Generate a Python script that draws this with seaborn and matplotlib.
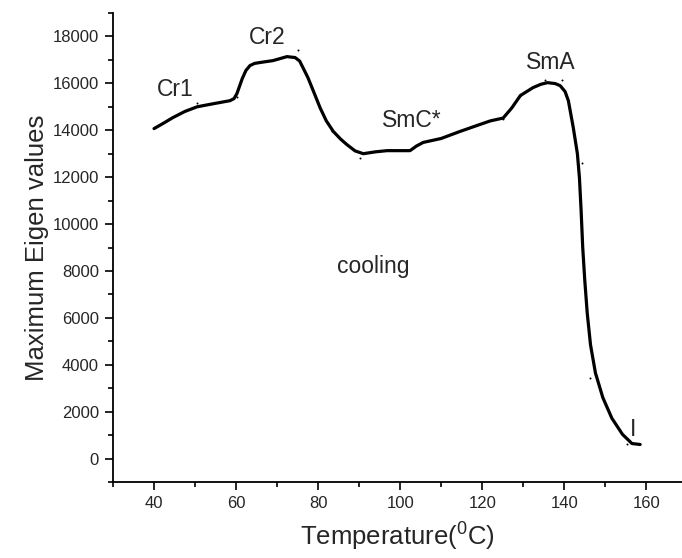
import matplotlib
matplotlib.use("Agg")
import matplotlib.pyplot as plt
import numpy as np
import pandas as pd
import seaborn as sns
from matplotlib.ticker import MultipleLocator

# curve (temperature, max eigen value)
temp = [40, 42.3, 44.6, 47.5, 50.5, 54.4, 58.5, 59.5, 60.2, 61.5, 62.4, 63.4,
        64.5, 65.9, 69, 72.4, 74.4, 75.5, 76.3, 77.5, 78.8, 80.5, 82, 83.7,
        85.5, 87, 89, 91, 94, 96.8, 100, 102.4, 104, 105.6, 110, 114.6, 119.5,
        122, 125.1, 127.2, 129.3, 132.4, 134.3, 135.9, 137.8, 139, 140.2, 141,
        142.2, 143.2, 143.7, 144.1, 144.5, 145.0, 145.6, 146.4, 147.6, 149.4,
        151.6, 154.2, 156.5, 158.5]
eigen = [14070, 14300, 14540, 14800, 15000, 15130, 15260, 15350, 15560, 16200,
         16550, 16760, 16850, 16890, 16970, 17140, 17100, 16950, 16670, 16250,
         15690, 14950, 14400, 13950, 13620, 13390, 13120, 13000, 13080, 13130,
         13130, 13130, 13330, 13480, 13650, 13950, 14250, 14400, 14520, 14950,
         15480, 15820, 15960, 16030, 15990, 15900, 15650, 15260, 14110, 13000,
         11970, 10600, 9000, 7600, 6200, 4850, 3650, 2600, 1720, 1030, 640, 600]

# small measured points scattered near the curve
dot_t = [50.5, 60.2, 75, 83.4, 90.2, 125, 129.3, 135.4, 139.5, 144.4, 146.3, 155.4]
dot_v = [15150, 15400, 17420, 13950, 12830, 14460, 15450, 16140, 16140, 12620,
         3430, 600]

# phase labels
phase_names = ["Cr1", "Cr2", "SmC*", "SmA", "I", "cooling"]
phase_t = [45.1, 67.6, 102.9, 136.6, 156.8, 93.4]
phase_v = [15750, 17950, 14400, 16890, 1240, 8200]

sns.set_style("ticks")
plt.rcParams["font.family"] = ["Liberation Sans", "DejaVu Sans"]
plt.rcParams["mathtext.fontset"] = "custom"
plt.rcParams["mathtext.rm"] = "Liberation Sans"

fig = plt.figure(figsize=(6.82, 5.58), dpi=100)
ax = fig.add_axes([0.1657, 0.1362, 0.8343, 0.8405])

df = pd.DataFrame({"t": temp, "v": eigen})
sns.lineplot(data=df, x="t", y="v", sort=False, color="black", linewidth=2.3, ax=ax)
sns.scatterplot(x=dot_t, y=dot_v, color="black", s=2, linewidth=0, ax=ax)

for name, t, v in zip(phase_names, phase_t, phase_v):
    ax.text(t, v, name, ha="center", va="center", fontsize=16.5)

ax.set_xlim(30, 168.7)
ax.set_ylim(-1000, 19000)
ax.set_xticks(np.arange(40, 161, 20))
ax.set_yticks(np.arange(0, 18001, 2000))
ax.xaxis.set_minor_locator(MultipleLocator(10))
ax.yaxis.set_minor_locator(MultipleLocator(1000))
ax.tick_params(which="major", direction="out", length=6, width=1.2, labelsize=12, color="black", pad=4)
ax.tick_params(which="minor", direction="out", length=3.5, width=1.2, color="black")
for side in ("top", "right"):
    ax.spines[side].set_visible(False)
for side in ("left", "bottom"):
    ax.spines[side].set_linewidth(1.3)
    ax.spines[side].set_color("black")

ax.set_xlabel(r"Temperature($^\mathrm{0}$C)", fontsize=18.5, labelpad=6)
ax.set_ylabel("Maximum Eigen values", fontsize=18.5, labelpad=3)

fig.savefig("out.png", dpi=100)
